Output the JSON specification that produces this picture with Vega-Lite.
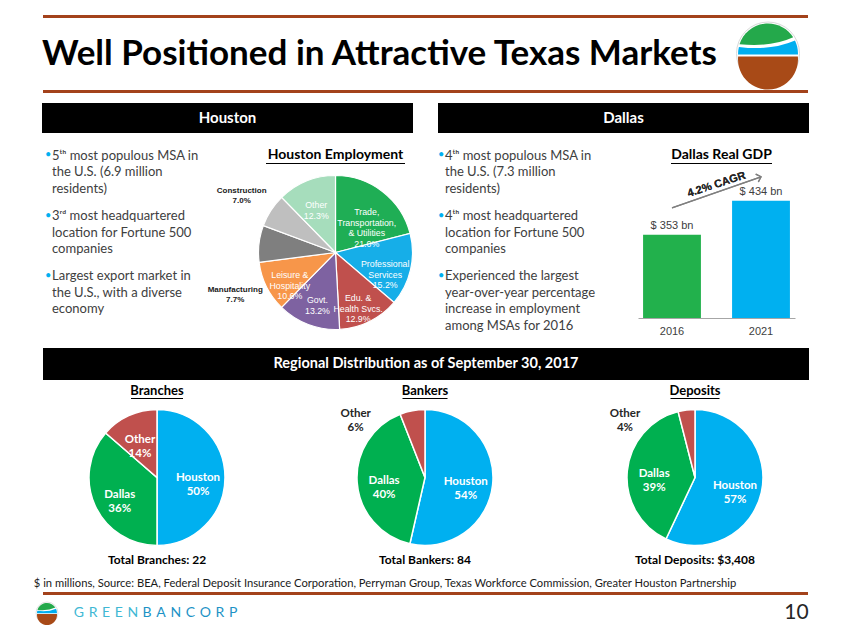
{
"$schema":"https://vega.github.io/schema/vega-lite/v6.json",
"padding":0,
"background":"white",
"spacing":0,
"resolve":{"scale":{"color":"independent"}},
"config":{"view":{"stroke":null},"concat":{"spacing":0},"text":{"font":"Lato"}},
"vconcat":[
 {"width":850,"height":15,"data":{"values":[{}]},"mark":{"type":"rect","opacity":0}},
 {"spacing":0,"hconcat":[
   {"width":43,"height":3,"data":{"values":[{}]},"mark":{"type":"rect","opacity":0}},
   {"width":765,"height":3,"data":{"values":[{}]},"mark":{"type":"rect","color":"#a3421b"}}]},
 {"spacing":0,"hconcat":[
   {"width":25,"height":71,"data":{"values":[{}]},"mark":{"type":"rect","opacity":0}},
   {"width":709,"height":71,"data":{"values":[{"t":"Well Positioned in Attractive Texas Markets"}]},"mark":{"type":"text","font":"Lato","fontWeight":"bold","fontSize":35,"color":"#000000","baseline":"middle"},"encoding":{"text":{"field":"t"}}},
   {"width":64,"height":71,"data":{"values":[{}]},"layer":[
     {"mark":{"type":"point","shape":"circle","size":3969,"filled":true,"opacity":1,"color":"white","stroke":"#d9d9d9","strokeWidth":1}},
     {"mark":{"type":"point","shape":"M -0.995 0.1 A 1 1 0 1 0 0.995 0.1 Z","size":3600,"filled":true,"opacity":1,"color":"#a84a17","strokeWidth":0}},
     {"mark":{"type":"point","shape":"M -0.97 -0.22 Q 0.1 -0.08 0.9 -0.43 A 1 1 0 0 1 0.9995 0.03 L -0.9995 0.03 A 1 1 0 0 1 -0.97 -0.22 Z","size":3600,"filled":true,"opacity":1,"color":"#00aeef","strokeWidth":0}},
     {"mark":{"type":"point","shape":"M -0.95 -0.31 A 1 1 0 0 1 0.84 -0.54 Q 0.1 -0.2 -0.95 -0.31 Z","size":3600,"filled":true,"opacity":1,"color":"#24a94b","strokeWidth":0}}]}]},
 {"spacing":0,"hconcat":[
   {"width":43,"height":3,"data":{"values":[{}]},"mark":{"type":"rect","opacity":0}},
   {"width":765,"height":3,"data":{"values":[{}]},"mark":{"type":"rect","color":"#a3421b"}}]},
 {"width":850,"height":10,"data":{"values":[{}]},"mark":{"type":"rect","opacity":0}},
 {"spacing":0,"hconcat":[
   {"width":42,"height":30,"data":{"values":[{}]},"mark":{"type":"rect","opacity":0}},
   {"width":371,"height":30,"data":{"values":[{"t":"Houston"}]},"layer":[{"mark":{"type":"rect","color":"#000000"}},{"mark":{"type":"text","font":"Lato","fontWeight":"bold","fontSize":15,"color":"white","baseline":"middle"},"encoding":{"text":{"field":"t"}}}]},
   {"width":25,"height":30,"data":{"values":[{}]},"mark":{"type":"rect","opacity":0}},
   {"width":371,"height":30,"data":{"values":[{"t":"Dallas"}]},"layer":[{"mark":{"type":"rect","color":"#000000"}},{"mark":{"type":"text","font":"Lato","fontWeight":"bold","fontSize":15,"color":"white","baseline":"middle"},"encoding":{"text":{"field":"t"}}}]}]},
 {"spacing":0,"resolve":{"scale":{"color":"independent"}},"hconcat":[
   {"width":45,"height":215,"data":{"values":[{}]},"mark":{"type":"rect","opacity":0}},
   {"width":159,"height":215,
    "data":{"values":[
      {"n":1,"t":"5ᵗʰ most populous MSA in\nthe U.S. (6.9 million\nresidents)"},
      {"n":2,"t":"3ʳᵈ most headquartered\nlocation for Fortune 500\ncompanies"},
      {"n":3,"t":"Largest export market in\nthe U.S., with a diverse\neconomy"}]},
    "encoding":{
      "y":{"field":"n","type":"ordinal","scale":{"type":"point","padding":0.787,"align":0.285},"axis":null},
      "x":{"datum":0,"type":"quantitative","scale":{"domain":[0,1]},"axis":null}},
    "layer":[
      {"mark":{"type":"text","text":"•","align":"left","baseline":"alphabetic","font":"Lato","fontSize":11,"color":"#00b0f0","dy":-1.5}},
      {"mark":{"type":"text","align":"left","baseline":"alphabetic","font":"Lato","fontSize":13,"lineHeight":16.5,"lineBreak":"\n","color":"#404040","dx":7},"encoding":{"text":{"field":"t"}}}]},
   {"spacing":0,"vconcat":[
     {"width":232,"height":14,"data":{"values":[{}]},"mark":{"type":"rect","opacity":0}},
     {"spacing":0,"hconcat":[
       {"width":52,"height":1,"data":{"values":[{}]},"mark":{"type":"rect","opacity":0}},
       {"spacing":0,"center":true,"vconcat":[
         {"width":159,"height":16,"data":{"values":[{"t":"Houston Employment"}]},"mark":{"type":"text","font":"Lato","fontWeight":"bold","fontSize":14,"color":"#000000","baseline":"middle"},"encoding":{"text":{"field":"t"}}},
         {"width":139,"height":1,"data":{"values":[{}]},"mark":{"type":"rect","color":"#000000"}}]}]},
     {"width":232,"height":9,"data":{"values":[{}]},"mark":{"type":"rect","opacity":0}},
     {"width":232,"height":155,
      "data":{"values":[
        {"sector":"Trade, Transportation, & Utilities","label":"Trade,\nTransportation,\n& Utilities\n21.0%","share":21.0,"rank":1},
        {"sector":"Professional Services","label":"Professional\nServices\n15.2%","share":15.2,"rank":2},
        {"sector":"Edu. & Health Svcs.","label":"Edu. &\nHealth Svcs.\n12.9%","share":12.9,"rank":3},
        {"sector":"Govt.","label":"Govt.\n13.2%","share":13.2,"rank":4},
        {"sector":"Leisure & Hospitality","label":"Leisure &\nHospitality\n10.6%","share":10.6,"rank":5},
        {"sector":"Manufacturing","label":"Manufacturing\n7.7%","share":7.7,"rank":6},
        {"sector":"Construction","label":"Construction\n7.0%","share":7.0,"rank":7},
        {"sector":"Other","label":"Other\n12.3%","share":12.3,"rank":8}]},
      "encoding":{
        "theta":{"field":"share","type":"quantitative","stack":true},
        "order":{"field":"rank","type":"quantitative"},
        "color":{"field":"sector","type":"nominal","legend":null,"scale":{"domain":["Trade, Transportation, & Utilities","Professional Services","Edu. & Health Svcs.","Govt.","Leisure & Hospitality","Manufacturing","Construction","Other"],"range":["#1fae55","#16aee8","#c0504d","#7e62a1","#f7964a","#7f7f7f","#bfbfbf","#a6ddbc"]}},
        "x":{"datum":0.5668,"type":"quantitative","scale":{"domain":[0,1]},"axis":null}},
      "layer":[
        {"mark":{"type":"arc","outerRadius":77,"stroke":"white","strokeWidth":1.2}},
        {"mark":{"type":"text","radius":51,"font":"Liberation Sans","fontSize":8.8,"lineHeight":10.5,"lineBreak":"\n","baseline":"middle","clip":true},
         "encoding":{"text":{"field":"label"},"color":{"value":"white"},"detail":{"field":"sector"},"opacity":{"condition":{"test":"datum.sector === 'Construction' || datum.sector === 'Manufacturing'","value":0},"value":1}}},
        {"mark":{"type":"text","radius":112,"font":"Liberation Sans","fontWeight":"bold","fontSize":8,"lineHeight":10,"lineBreak":"\n","baseline":"middle","clip":true},
         "encoding":{"text":{"field":"label"},"color":{"value":"#1a1a1a"},"detail":{"field":"sector"},"opacity":{"condition":{"test":"datum.sector === 'Construction'","value":1},"value":0}}},
        {"mark":{"type":"text","radius":110,"dx":9,"dy":50,"font":"Liberation Sans","fontWeight":"bold","fontSize":8,"lineHeight":10,"lineBreak":"\n","baseline":"middle","clip":true},
         "encoding":{"text":{"field":"label"},"color":{"value":"#1a1a1a"},"detail":{"field":"sector"},"opacity":{"condition":{"test":"datum.sector === 'Manufacturing'","value":1},"value":0}}}]}]},
   {"width":2,"height":1,"data":{"values":[{}]},"mark":{"type":"rect","opacity":0}},
   {"width":200,"height":215,
    "data":{"values":[
      {"n":1,"t":"4ᵗʰ most populous MSA in\nthe U.S. (7.3 million\nresidents)"},
      {"n":2,"t":"4ᵗʰ most headquartered\nlocation for Fortune 500\ncompanies"},
      {"n":3,"t":"Experienced the largest\nyear-over-year percentage\nincrease in employment\namong MSAs for 2016"}]},
    "encoding":{
      "y":{"field":"n","type":"ordinal","scale":{"type":"point","padding":0.787,"align":0.285},"axis":null},
      "x":{"datum":0,"type":"quantitative","scale":{"domain":[0,1]},"axis":null}},
    "layer":[
      {"mark":{"type":"text","text":"•","align":"left","baseline":"alphabetic","font":"Lato","fontSize":11,"color":"#00b0f0","dy":-1.5}},
      {"mark":{"type":"text","align":"left","baseline":"alphabetic","font":"Lato","fontSize":13,"lineHeight":16.5,"lineBreak":"\n","color":"#404040","dx":7},"encoding":{"text":{"field":"t"}}}]},
   {"spacing":0,"vconcat":[
     {"width":157,"height":14,"data":{"values":[{}]},"mark":{"type":"rect","opacity":0}},
     {"spacing":0,"hconcat":[
       {"width":10,"height":1,"data":{"values":[{}]},"mark":{"type":"rect","opacity":0}},
       {"spacing":0,"center":true,"vconcat":[
         {"width":147,"height":16,"data":{"values":[{"t":"Dallas Real GDP"}]},"mark":{"type":"text","font":"Lato","fontWeight":"bold","fontSize":14,"color":"#000000","baseline":"middle"},"encoding":{"text":{"field":"t"}}},
         {"width":101,"height":1,"data":{"values":[{}]},"mark":{"type":"rect","color":"#000000"}}]}]},
     {"width":157,"height":5,"data":{"values":[{}]},"mark":{"type":"rect","opacity":0}},
     {"width":157,"height":149,
      "data":{"values":[{"year":"2016","gdp":353,"label":"$ 353 bn"},{"year":"2021","gdp":434,"label":"$ 434 bn"}]},
      "layer":[
        {"mark":{"type":"bar","clip":true},
         "encoding":{
           "x":{"field":"year","type":"ordinal","scale":{"paddingInner":0.35,"paddingOuter":0.057},"axis":{"title":null,"ticks":false,"labelPadding":7,"labelAngle":0,"domainColor":"#a6a6a6","labelFont":"Liberation Sans","labelFontSize":11,"labelColor":"#404040"}},
           "y":{"field":"gdp","type":"quantitative","scale":{"domain":[155,509.5],"zero":false,"nice":false},"axis":null},
           "y2":{"datum":155},
           "color":{"field":"year","type":"nominal","scale":{"domain":["2016","2021"],"range":["#22b14c","#00b0f0"]},"legend":null}}},
        {"mark":{"type":"text","dy":-9,"font":"Liberation Sans","fontSize":11,"color":"#404040"},
         "encoding":{"x":{"field":"year","type":"ordinal"},"y":{"field":"gdp","type":"quantitative"},"text":{"field":"label"}}},
        {"mark":{"type":"rule","color":"#7f7f7f","strokeWidth":1.3},
         "encoding":{"x":{"datum":"2016","type":"ordinal"},"x2":{"datum":"2021"},"y":{"datum":417,"type":"quantitative"},"y2":{"datum":491}}},
        {"mark":{"type":"point","shape":"M -1 -1 L 0 0 L -1 1","filled":false,"opacity":1,"stroke":"#7f7f7f","strokeWidth":1.3,"size":70,"angle":-18.4},
         "encoding":{"x":{"datum":"2021","type":"ordinal"},"y":{"datum":491,"type":"quantitative"}}},
        {"mark":{"type":"text","text":"4.2% CAGR","angle":-18,"font":"Liberation Sans","fontWeight":"bold","fontSize":11,"color":"#262626","baseline":"middle"},
         "encoding":{"y":{"datum":472,"type":"quantitative"}}}]}]}]},
 {"spacing":0,"hconcat":[
   {"width":43,"height":32,"data":{"values":[{}]},"mark":{"type":"rect","opacity":0}},
   {"width":766,"height":32,"data":{"values":[{"t":"Regional Distribution as of September 30, 2017"}]},"layer":[{"mark":{"type":"rect","color":"#000000"}},{"mark":{"type":"text","font":"Lato","fontWeight":"bold","fontSize":14.5,"color":"white","baseline":"middle"},"encoding":{"text":{"field":"t"}}}]}]},
 {"spacing":0,"resolve":{"scale":{"color":"independent"}},"hconcat":[
   {"width":57,"height":1,"data":{"values":[{}]},"mark":{"type":"rect","opacity":0}},
   {"spacing":0,"center":true,"vconcat":[
     {"width":200,"height":4,"data":{"values":[{}]},"mark":{"type":"rect","opacity":0}},
     {"width":200,"height":13,"data":{"values":[{"t":"Branches"}]},"mark":{"type":"text","font":"Lato","fontWeight":"bold","fontSize":13,"color":"#000000","baseline":"middle"},"encoding":{"text":{"field":"t"}}},
     {"width":52,"height":1,"data":{"values":[{}]},"mark":{"type":"rect","color":"#000000"}},
     {"width":200,"height":2,"data":{"values":[{}]},"mark":{"type":"rect","opacity":0}},
     {"width":200,"height":153,
      "data":{"values":[
        {"region":"Houston","count":11,"label":"Houston\n50%","rank":1},
        {"region":"Dallas","count":8,"label":"Dallas\n36%","rank":2},
        {"region":"Other","count":3,"label":"Other\n14%","rank":3}]},
      "encoding":{
        "theta":{"field":"count","type":"quantitative","stack":true},
        "order":{"field":"rank","type":"quantitative"},
        "color":{"field":"region","type":"nominal","legend":null,"scale":{"domain":["Houston","Dallas","Other"],"range":["#00b0f0","#00b050","#c0504d"]}}},
      "layer":[
        {"mark":{"type":"arc","outerRadius":68,"stroke":"white","strokeWidth":1.5}},
        {"mark":{"type":"text","radius":41,"font":"Lato","fontWeight":"bold","fontSize":11.5,"lineHeight":14,"lineBreak":"\n","baseline":"middle","clip":true},
         "encoding":{"text":{"field":"label"},"color":{"value":"white"},"detail":{"field":"region"}}}]},
     {"width":200,"height":12,"data":{"values":[{"t":"Total Branches: 22"}]},"mark":{"type":"text","font":"Lato","fontWeight":"bold","fontSize":12,"color":"#000000","baseline":"middle"},"encoding":{"text":{"field":"t"}}}]},
   {"width":68,"height":1,"data":{"values":[{}]},"mark":{"type":"rect","opacity":0}},
   {"spacing":0,"center":true,"vconcat":[
     {"width":200,"height":4,"data":{"values":[{}]},"mark":{"type":"rect","opacity":0}},
     {"width":200,"height":13,"data":{"values":[{"t":"Bankers"}]},"mark":{"type":"text","font":"Lato","fontWeight":"bold","fontSize":13,"color":"#000000","baseline":"middle"},"encoding":{"text":{"field":"t"}}},
     {"width":45,"height":1,"data":{"values":[{}]},"mark":{"type":"rect","color":"#000000"}},
     {"width":200,"height":2,"data":{"values":[{}]},"mark":{"type":"rect","opacity":0}},
     {"width":200,"height":153,
      "data":{"values":[
        {"region":"Houston","count":45,"label":"Houston\n54%","rank":1},
        {"region":"Dallas","count":34,"label":"Dallas\n40%","rank":2},
        {"region":"Other","count":5,"label":"Other\n6%","rank":3}]},
      "encoding":{
        "theta":{"field":"count","type":"quantitative","stack":true},
        "order":{"field":"rank","type":"quantitative"},
        "color":{"field":"region","type":"nominal","legend":null,"scale":{"domain":["Houston","Dallas","Other"],"range":["#00b0f0","#00b050","#c0504d"]}}},
      "layer":[
        {"mark":{"type":"arc","outerRadius":68,"stroke":"white","strokeWidth":1.5}},
        {"mark":{"type":"text","radius":41,"font":"Lato","fontWeight":"bold","fontSize":11.5,"lineHeight":14,"lineBreak":"\n","baseline":"middle","clip":true},
         "encoding":{"text":{"field":"label"},"color":{"value":"white"},"detail":{"field":"region"},"opacity":{"condition":{"test":"datum.region === 'Other'","value":0},"value":1}}},
        {"mark":{"type":"text","radius":72,"dx":-56,"dy":7,"font":"Lato","fontWeight":"bold","fontSize":11.5,"lineHeight":14,"lineBreak":"\n","baseline":"middle","clip":true},
         "encoding":{"text":{"field":"label"},"color":{"value":"#262626"},"detail":{"field":"region"},"opacity":{"condition":{"test":"datum.region === 'Other'","value":1},"value":0}}}]},
     {"width":200,"height":12,"data":{"values":[{"t":"Total Bankers: 84"}]},"mark":{"type":"text","font":"Lato","fontWeight":"bold","fontSize":12,"color":"#000000","baseline":"middle"},"encoding":{"text":{"field":"t"}}}]},
   {"width":70,"height":1,"data":{"values":[{}]},"mark":{"type":"rect","opacity":0}},
   {"spacing":0,"center":true,"vconcat":[
     {"width":200,"height":4,"data":{"values":[{}]},"mark":{"type":"rect","opacity":0}},
     {"width":200,"height":13,"data":{"values":[{"t":"Deposits"}]},"mark":{"type":"text","font":"Lato","fontWeight":"bold","fontSize":13,"color":"#000000","baseline":"middle"},"encoding":{"text":{"field":"t"}}},
     {"width":49,"height":1,"data":{"values":[{}]},"mark":{"type":"rect","color":"#000000"}},
     {"width":200,"height":2,"data":{"values":[{}]},"mark":{"type":"rect","opacity":0}},
     {"width":200,"height":153,
      "data":{"values":[
        {"region":"Houston","count":1943,"label":"Houston\n57%","rank":1},
        {"region":"Dallas","count":1329,"label":"Dallas\n39%","rank":2},
        {"region":"Other","count":136,"label":"Other\n4%","rank":3}]},
      "encoding":{
        "theta":{"field":"count","type":"quantitative","stack":true},
        "order":{"field":"rank","type":"quantitative"},
        "color":{"field":"region","type":"nominal","legend":null,"scale":{"domain":["Houston","Dallas","Other"],"range":["#00b0f0","#00b050","#c0504d"]}}},
      "layer":[
        {"mark":{"type":"arc","outerRadius":68,"stroke":"white","strokeWidth":1.5}},
        {"mark":{"type":"text","radius":41,"font":"Lato","fontWeight":"bold","fontSize":11.5,"lineHeight":14,"lineBreak":"\n","baseline":"middle","clip":true},
         "encoding":{"text":{"field":"label"},"color":{"value":"white"},"detail":{"field":"region"},"opacity":{"condition":{"test":"datum.region === 'Other'","value":0},"value":1}}},
        {"mark":{"type":"text","radius":72,"dx":-61,"dy":8,"font":"Lato","fontWeight":"bold","fontSize":11.5,"lineHeight":14,"lineBreak":"\n","baseline":"middle","clip":true},
         "encoding":{"text":{"field":"label"},"color":{"value":"#262626"},"detail":{"field":"region"},"opacity":{"condition":{"test":"datum.region === 'Other'","value":1},"value":0}}}]},
     {"width":200,"height":12,"data":{"values":[{"t":"Total Deposits: $3,408"}]},"mark":{"type":"text","font":"Lato","fontWeight":"bold","fontSize":12,"color":"#000000","baseline":"middle"},"encoding":{"text":{"field":"t"}}}]}]},
 {"width":850,"height":11,"data":{"values":[{}]},"mark":{"type":"rect","opacity":0}},
 {"spacing":0,"hconcat":[
   {"width":25,"height":13,"data":{"values":[{}]},"mark":{"type":"rect","opacity":0}},
   {"width":720,"height":13,"data":{"values":[{"t":"$ in millions, Source: BEA, Federal Deposit Insurance Corporation, Perryman Group, Texas Workforce Commission, Greater Houston Partnership"}]},"mark":{"type":"text","font":"Lato","fontSize":11.2,"color":"#1a1a1a","baseline":"middle"},"encoding":{"text":{"field":"t"}}}]},
 {"width":850,"height":2,"data":{"values":[{}]},"mark":{"type":"rect","opacity":0}},
 {"spacing":0,"hconcat":[
   {"width":43,"height":3,"data":{"values":[{}]},"mark":{"type":"rect","opacity":0}},
   {"width":765,"height":3,"data":{"values":[{}]},"mark":{"type":"rect","color":"#a3421b"}}]},
 {"width":850,"height":5,"data":{"values":[{}]},"mark":{"type":"rect","opacity":0}},
 {"spacing":0,"hconcat":[
   {"width":34,"height":24,"data":{"values":[{}]},"mark":{"type":"rect","opacity":0}},
   {"width":24,"height":24,"data":{"values":[{}]},"layer":[
     {"mark":{"type":"point","shape":"circle","size":484,"filled":true,"opacity":1,"color":"white","stroke":"#d9d9d9","strokeWidth":0.8}},
     {"mark":{"type":"point","shape":"M -0.995 0.1 A 1 1 0 1 0 0.995 0.1 Z","size":400,"filled":true,"opacity":1,"color":"#a84a17","strokeWidth":0}},
     {"mark":{"type":"point","shape":"M -0.97 -0.22 Q 0.1 -0.08 0.9 -0.43 A 1 1 0 0 1 0.9995 0.03 L -0.9995 0.03 A 1 1 0 0 1 -0.97 -0.22 Z","size":400,"filled":true,"opacity":1,"color":"#00aeef","strokeWidth":0}},
     {"mark":{"type":"point","shape":"M -0.95 -0.31 A 1 1 0 0 1 0.84 -0.54 Q 0.1 -0.2 -0.95 -0.31 Z","size":400,"filled":true,"opacity":1,"color":"#24a94b","strokeWidth":0}}]},
   {"width":10,"height":24,"data":{"values":[{}]},"mark":{"type":"rect","opacity":0}},
   {"width":72,"height":24,"data":{"values":[{"t":"G\u2004R\u2004E\u2004E\u2004N"}]},"mark":{"type":"text","font":"Lato","fontSize":14,"color":"#3fb8d4","baseline":"middle"},"encoding":{"text":{"field":"t"}}},
   {"width":96,"height":24,"data":{"values":[{"t":"B\u2004A\u2004N\u2004C\u2004O\u2004R\u2004P"}]},"mark":{"type":"text","font":"Lato","fontSize":14,"color":"#1d93c6","baseline":"middle"},"encoding":{"text":{"field":"t"}}},
   {"width":541,"height":24,"data":{"values":[{}]},"mark":{"type":"rect","opacity":0}},
   {"width":35,"height":24,"data":{"values":[{"t":"10"}]},"mark":{"type":"text","font":"Lato","fontSize":21,"color":"#262626","baseline":"middle"},"encoding":{"text":{"field":"t"}}}]}
]
}
